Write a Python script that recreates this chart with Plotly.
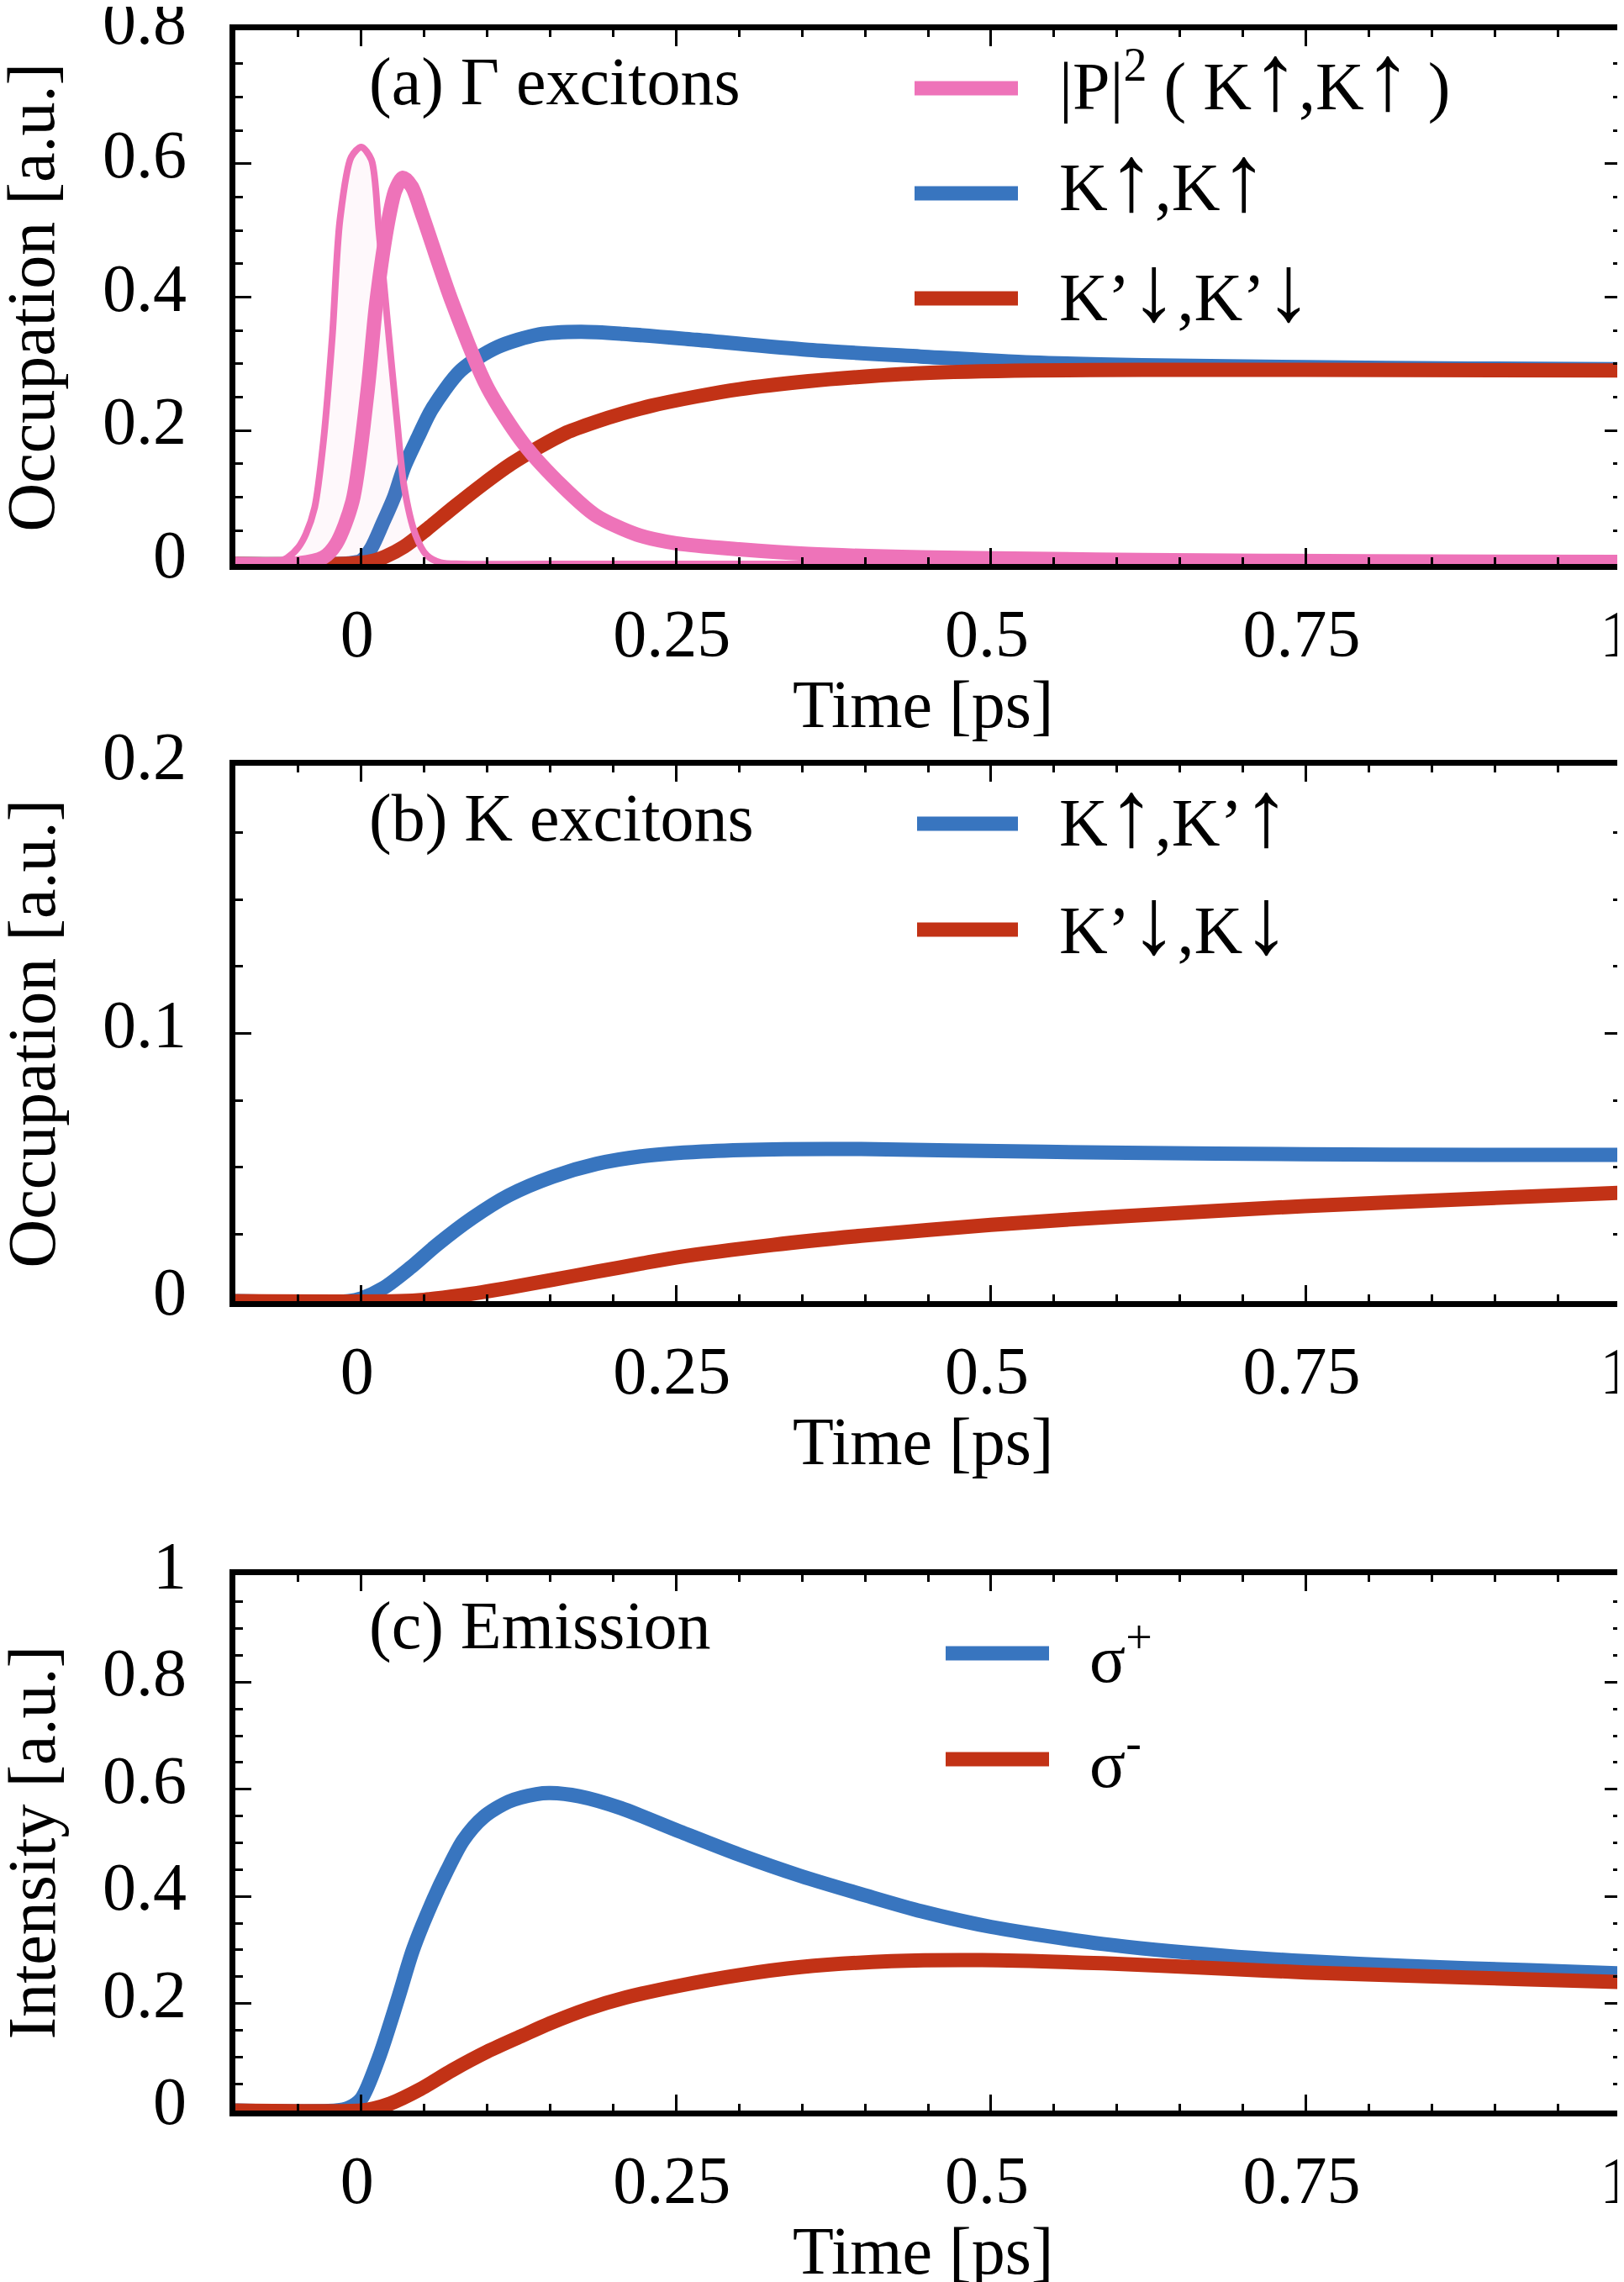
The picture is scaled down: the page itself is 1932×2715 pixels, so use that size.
import plotly.graph_objects as go

# ---------------- data ----------------
# Panel (a): Gamma excitons
t_pulse = [-0.10, -0.08, -0.068, -0.059, -0.050, -0.044, -0.037, -0.030, -0.023, -0.017, -0.008,
           0.000, 0.008, 0.014, 0.021, 0.028, 0.034, 0.043, 0.052, 0.063, 0.080, 0.150, 1.000]
pulse = [0, 0, 0.002, 0.009, 0.025, 0.045, 0.085, 0.185, 0.342, 0.515, 0.610,
         0.625, 0.606, 0.499, 0.359, 0.222, 0.116, 0.044, 0.013, 0.002, 0, 0, 0]

t_pol = [-0.10, -0.05, -0.03, -0.020, -0.007, 0.005, 0.012, 0.022, 0.027, 0.033, 0.040, 0.049,
         0.072, 0.100, 0.129, 0.160, 0.186, 0.219, 0.250, 0.300, 0.355, 0.444, 0.533, 0.620,
         0.800, 1.000]
pol = [0, 0.001, 0.010, 0.030, 0.094, 0.260, 0.393, 0.520, 0.560, 0.579, 0.566, 0.520,
       0.393, 0.265, 0.180, 0.116, 0.073, 0.044, 0.031, 0.022, 0.015, 0.010, 0.008, 0.006,
       0.004, 0.003]

t_kk = [-0.10, -0.02, -0.010, 0.000, 0.008, 0.017, 0.026, 0.034, 0.045, 0.056, 0.079, 0.108,
        0.141, 0.174, 0.208, 0.266, 0.355, 0.444, 0.533, 0.620, 0.750, 0.880, 1.000]
kk = [0, 0, 0.001, 0.005, 0.024, 0.061, 0.100, 0.145, 0.190, 0.232, 0.290, 0.325,
      0.344, 0.348, 0.345, 0.336, 0.321, 0.311, 0.302, 0.298, 0.295, 0.293, 0.292]

t_kpkp = [-0.10, -0.02, 0.000, 0.010, 0.019, 0.034, 0.052, 0.074, 0.097, 0.119, 0.141, 0.163,
          0.186, 0.208, 0.230, 0.266, 0.300, 0.355, 0.400, 0.444, 0.533, 0.620, 0.750, 1.000]
kpkp = [0, 0, 0.002, 0.005, 0.011, 0.026, 0.052, 0.086, 0.120, 0.150, 0.175, 0.197,
        0.213, 0.226, 0.237, 0.251, 0.262, 0.274, 0.281, 0.286, 0.290, 0.291, 0.291, 0.290]

# Panel (b): K excitons
t_b_up = [-0.10, -0.01, 0.000, 0.018, 0.039, 0.060, 0.088, 0.117, 0.152, 0.187, 0.222,
          0.271, 0.327, 0.397, 0.468, 0.608, 0.749, 0.889, 1.000]
b_up = [0, 0, 0.001, 0.005, 0.0125, 0.021, 0.031, 0.0395, 0.0465, 0.0513, 0.0541,
        0.0559, 0.0567, 0.0568, 0.0563, 0.0554, 0.0549, 0.0546, 0.0546]

t_b_dn = [-0.10, 0.030, 0.050, 0.080, 0.117, 0.152, 0.187, 0.222, 0.250, 0.327, 0.397,
          0.500, 0.608, 0.749, 0.889, 1.000]
b_dn = [0, 0, 0.0005, 0.0022, 0.0050, 0.0080, 0.0110, 0.0140, 0.0163, 0.0210, 0.0244,
        0.0285, 0.0318, 0.0355, 0.0383, 0.0405]

# Panel (c): Emission
t_c_plus = [-0.10, -0.020, -0.010, 0.000, 0.014, 0.029, 0.041, 0.0555, 0.068, 0.081, 0.097,
            0.117, 0.139, 0.150, 0.173, 0.206, 0.253, 0.300, 0.349, 0.400, 0.445, 0.500,
            0.589, 0.686, 0.750, 0.830, 0.927, 1.000]
c_plus = [0, 0, 0.005, 0.022, 0.099, 0.208, 0.300, 0.385, 0.448, 0.505, 0.548,
          0.577, 0.591, 0.593, 0.587, 0.565, 0.521, 0.478, 0.438, 0.402, 0.372, 0.343,
          0.311, 0.289, 0.279, 0.270, 0.262, 0.256]

t_c_minus = [-0.10, 0.000, 0.010, 0.023, 0.047, 0.072, 0.100, 0.128, 0.150, 0.180, 0.210,
             0.250, 0.300, 0.349, 0.421, 0.493, 0.589, 0.686, 0.750, 0.830, 0.927, 1.000]
c_minus = [0, 0, 0.004, 0.013, 0.040, 0.075, 0.110, 0.140, 0.163, 0.190, 0.211,
           0.232, 0.253, 0.268, 0.279, 0.281, 0.275, 0.265, 0.258, 0.252, 0.245, 0.240]

x_tickvals = [0, 0.25, 0.5, 0.75, 1]
x_ticktext = ["0", "0.25", "0.5", "0.75", "1"]
ya_tickvals = [0, 0.2, 0.4, 0.6, 0.8]
ya_ticktext = ["0", "0.2", "0.4", "0.6", "0.8"]
yb_tickvals = [0, 0.1, 0.2]
yb_ticktext = ["0", "0.1", "0.2"]
yc_tickvals = [0, 0.2, 0.4, 0.6, 0.8, 1]
yc_ticktext = ["0", "0.2", "0.4", "0.6", "0.8", "1"]

UP = '<span style="font-size:112px">↑</span>'
DN = '<span style="font-size:112px">↓</span>'
legend_a = ["|P|<sup>2</sup> ( K" + UP + ",K" + UP + " )", "K" + UP + ",K" + UP, "K’" + DN + ",K’" + DN]
legend_b = ["K" + UP + ",K’" + UP, "K’" + DN + ",K" + DN]
legend_c = ["σ<sup>+</sup>", "σ<sup>-</sup>"]
titles = ["(a) Γ excitons", "(b) K excitons", "(c) Emission"]

# ---------------- style ----------------
W, H = 1932, 2715
PINK = "#EE73B9"
BLUE = "#3875BF"
RED = "#C23216"
FONT = "Liberation Serif"
FS = 80
THICK = 17
THIN = 8


def px(x):
    return x / W


def py(y):
    return 1 - y / H


fig = go.Figure()


def line(x, y, color, width, xa, ya, **kw):
    fig.add_trace(go.Scatter(x=x, y=y, mode="lines", xaxis=xa, yaxis=ya,
                             line=dict(color=color, width=width, shape="spline", smoothing=0.8),
                             showlegend=False, hoverinfo="skip", **kw))


# panel a
line(t_kk, kk, BLUE, THICK, "x", "y")
line(t_kpkp, kpkp, RED, THICK, "x", "y")
line(t_pulse, pulse, PINK, THIN, "x", "y", fill="tozeroy", fillcolor="rgba(238,115,185,0.05)")
line(t_pol, pol, PINK, THICK, "x", "y")
# panel b
line(t_b_up, b_up, BLUE, THICK, "x2", "y2")
line(t_b_dn, b_dn, RED, THICK, "x2", "y2")
# panel c
line(t_c_plus, c_plus, BLUE, THICK, "x3", "y3")
line(t_c_minus, c_minus, RED, THICK, "x3", "y3")

xdom = [px(272), px(1920)]
panels = [(28, 663), (903, 1540), (1866, 2503)]

axis_common = dict(showline=True, linewidth=7, linecolor="black", mirror="allticks",
                   ticks="inside", ticklen=19, tickwidth=3, tickcolor="black",
                   showgrid=False, zeroline=False, ticklabeloverflow="allow",
                   tickfont=dict(family=FONT, size=FS, color="black"))

layout_axes = {}
ydefs = [([0, 0.8], ya_tickvals, ya_ticktext, 0.05),
         ([0, 0.2], yb_tickvals, yb_ticktext, 0.025),
         ([0, 1.0], yc_tickvals, yc_ticktext, 0.05)]
for i, ((top, bot), (yr, yv, yt, ymin)) in enumerate(zip(panels, ydefs)):
    sfx = "" if i == 0 else str(i + 1)
    layout_axes["xaxis" + sfx] = dict(
        axis_common, domain=xdom, anchor="y" + sfx, range=[-0.1, 1.0],
        tickmode="array", tickvals=x_tickvals, ticktext=x_ticktext,
        ticklabelstandoff=7, ticklabelshift=-5,
        minor=dict(ticks="inside", ticklen=8, tickwidth=3, tickcolor="black",
                   tickmode="linear", tick0=0, dtick=0.05, showgrid=False))
    layout_axes["yaxis" + sfx] = dict(
        axis_common, domain=[py(bot), py(top)], anchor="x" + sfx, range=yr,
        tickmode="array", tickvals=yv, ticktext=yt,
        ticklabelstandoff=35, ticklabelshift=-12,
        minor=dict(ticks="inside", ticklen=9, tickwidth=3, tickcolor="black",
                   tickmode="linear", tick0=0, dtick=ymin, showgrid=False))

annotations = []
shapes = []


def text(x, y, s, xanchor="left", yanchor="bottom", angle=0):
    annotations.append(dict(x=x, y=y, xref="paper", yref="paper", text=s, showarrow=False,
                            xanchor=xanchor, yanchor=yanchor, textangle=angle,
                            font=dict(family=FONT, size=FS, color="black")))


DESC = 18  # baseline -> bottom of text box

# panel titles
for s, base in zip(titles, [118, 994, 1955]):
    text(px(429), py(base + DESC), s)

# axis titles
for (top, bot), ylab in zip(panels, ["Occupation [a.u.]", "Occupation [a.u.]", "Intensity [a.u.]"]):
    text(px(1090), py(bot + 195 + DESC), "Time [ps]", xanchor="center")
    text(px(29), py((top + bot) / 2), ylab, xanchor="center", yanchor="middle", angle=-90)

# legends
leg_rows = [
    (legend_a, [PINK, BLUE, RED], [97, 222, 347], [130, 250, 381], 1080, 1203, 1250),
    (legend_b, [BLUE, RED], [972, 1098], [1006, 1134], 1083, 1203, 1250),
    (legend_c, [BLUE, RED], [1959, 2085], [1994, 2119], 1117, 1240, 1286),
]
for labels, cols, ly, base, x0, x1, xt in leg_rows:
    for lab, c, yy, bb in zip(labels, cols, ly, base):
        shapes.append(dict(type="line", xref="paper", yref="paper", x0=px(x0), x1=px(x1),
                           y0=py(yy), y1=py(yy), line=dict(color=c, width=THICK)))
        text(px(xt), py(bb + DESC), lab)

fig.update_layout(
    width=W, height=H, margin=dict(l=0, r=0, t=0, b=0, autoexpand=False),
    paper_bgcolor="white", plot_bgcolor="white",
    annotations=annotations, shapes=shapes,
    **layout_axes,
)
for k in layout_axes:
    fig.layout[k].automargin = False

fig.write_html("out.html")
